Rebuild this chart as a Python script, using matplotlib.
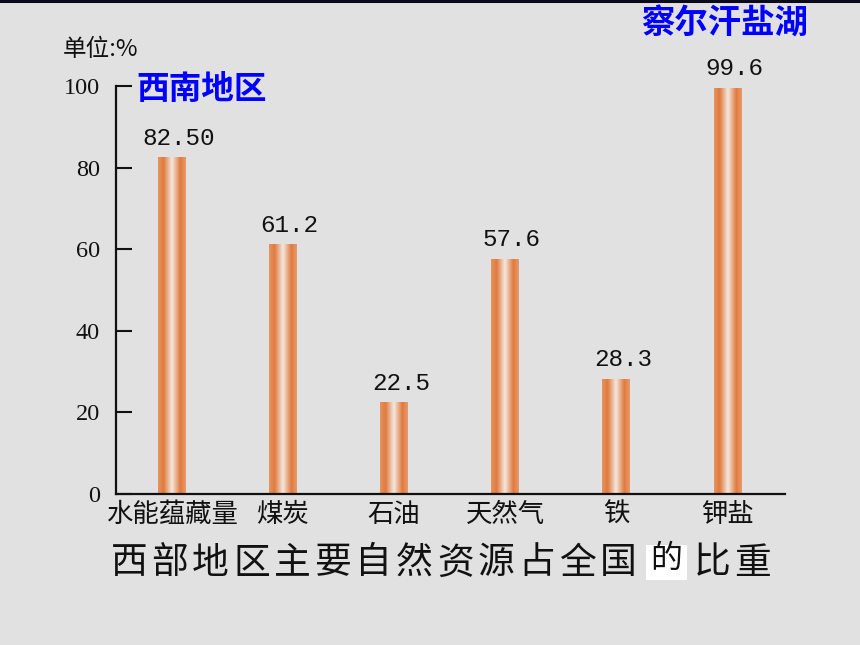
import numpy as np
import matplotlib
matplotlib.use("Agg")
import matplotlib.pyplot as plt
from matplotlib.colors import LinearSegmentedColormap
from matplotlib.lines import Line2D

categories = ["水能蕴藏量", "煤炭", "石油", "天然气", "铁", "钾盐"]
values = [82.50, 61.2, 22.5, 57.6, 28.3, 99.6]
value_labels = ["82.50", "61.2", "22.5", "57.6", "28.3", "99.6"]
yticks = [0, 20, 40, 60, 80, 100]
unit_label = "单位:%"
title_main = "西部地区主要自然资源占全国"
title_hl = "的"
title_tail = "比重"
note_sw = "西南地区"
note_salt = "察尔汗盐湖"

CJK = ["Noto Sans CJK SC", "DejaVu Sans"]
SERIF = ["Liberation Serif", "DejaVu Serif"]
MONO = ["Liberation Mono", "DejaVu Sans Mono"]
BG = "#e1e1e1"

fig = plt.figure(figsize=(8.6, 6.45), dpi=100, facecolor=BG)
ax = fig.add_axes([116/860, 1-494/645, (785-116)/860, (494-86)/645])
ax.set_facecolor(BG)

x = np.arange(len(categories))
bars = ax.bar(x, values, width=0.245, color="none", edgecolor="none", zorder=2)

cmap = LinearSegmentedColormap.from_list(
    "cyl",
    [(0.0, "#e59460"), (0.2, "#e07a3e"), (0.5, "#f3e8de"), (0.8, "#e07a3e"), (1.0, "#e89a6c")],
)
grad = np.linspace(0, 1, 256).reshape(1, -1)
for b in bars:
    x0, y0 = b.get_x(), b.get_y()
    w, h = b.get_width(), b.get_height()
    im = ax.imshow(grad, cmap=cmap, aspect="auto", extent=(x0, x0 + w, y0, y0 + h),
                   interpolation="bilinear", zorder=2)
    im.set_clip_path(b)

for xi, v, lab in zip(x, values, value_labels):
    ax.annotate(lab, (xi, v), xytext=(5, 9), textcoords="offset points",
                ha="center", va="baseline", fontsize=17.5, family=MONO, color="#111111")

ax.set_xlim(-0.5, 5.52)
ax.set_ylim(0, 100)
ax.set_yticks(yticks)
ax.set_yticklabels([str(t) for t in yticks], family=SERIF, fontsize=17.5)
ax.set_xticks(x)
ax.set_xticklabels(categories, family=CJK, fontsize=19)
ax.tick_params(axis="y", direction="in", length=11.5, width=1.5, pad=11.5, colors="#111111")
ax.tick_params(axis="x", length=0, pad=5, colors="#111111")
for s in ["top", "right"]:
    ax.spines[s].set_visible(False)
for s in ["left", "bottom"]:
    ax.spines[s].set_linewidth(1.6)
    ax.spines[s].set_color("#111111")

# unit label
fig.text(63/860, 1-49/645, unit_label, family=CJK, fontsize=17, ha="left", va="center", color="#111111")

# blue notes
fig.text(202/860, 1-90/645, note_sw, family=CJK, fontsize=23.5, fontweight="bold",
         color="#0000ff", ha="center", va="center")
fig.text(725/860, 1-24/645, note_salt, family=CJK, fontsize=24, fontweight="bold",
         color="#0000ff", ha="center", va="center")

# title, character by character
pitch = 40.8
start = 112 + 17
for i, ch in enumerate(title_main):
    fig.text((start + i*pitch)/860, 1-563/645, ch, family=CJK, fontsize=26.5,
             fontweight="medium", ha="center", va="center", color="#111111")
fig.patches.append(plt.Rectangle((646/860, 1-580/645), 41/860, 35/645,
                                 transform=fig.transFigure, facecolor="white",
                                 edgecolor="none", zorder=1))
fig.text(666/860, 1-559/645, title_hl, family=CJK, fontsize=23,
         ha="center", va="center", color="#111111", zorder=2)
for i, ch in enumerate(title_tail):
    fig.text((712 + i*pitch)/860, 1-563/645, ch, family=CJK, fontsize=26.5,
             fontweight="medium", ha="center", va="center", color="#111111")

# top border line
fig.add_artist(Line2D([0, 1], [1-1/645, 1-1/645], transform=fig.transFigure,
                      color="#0a0a1a", linewidth=2.2))

fig.savefig("out.png", dpi=100, facecolor=BG)
